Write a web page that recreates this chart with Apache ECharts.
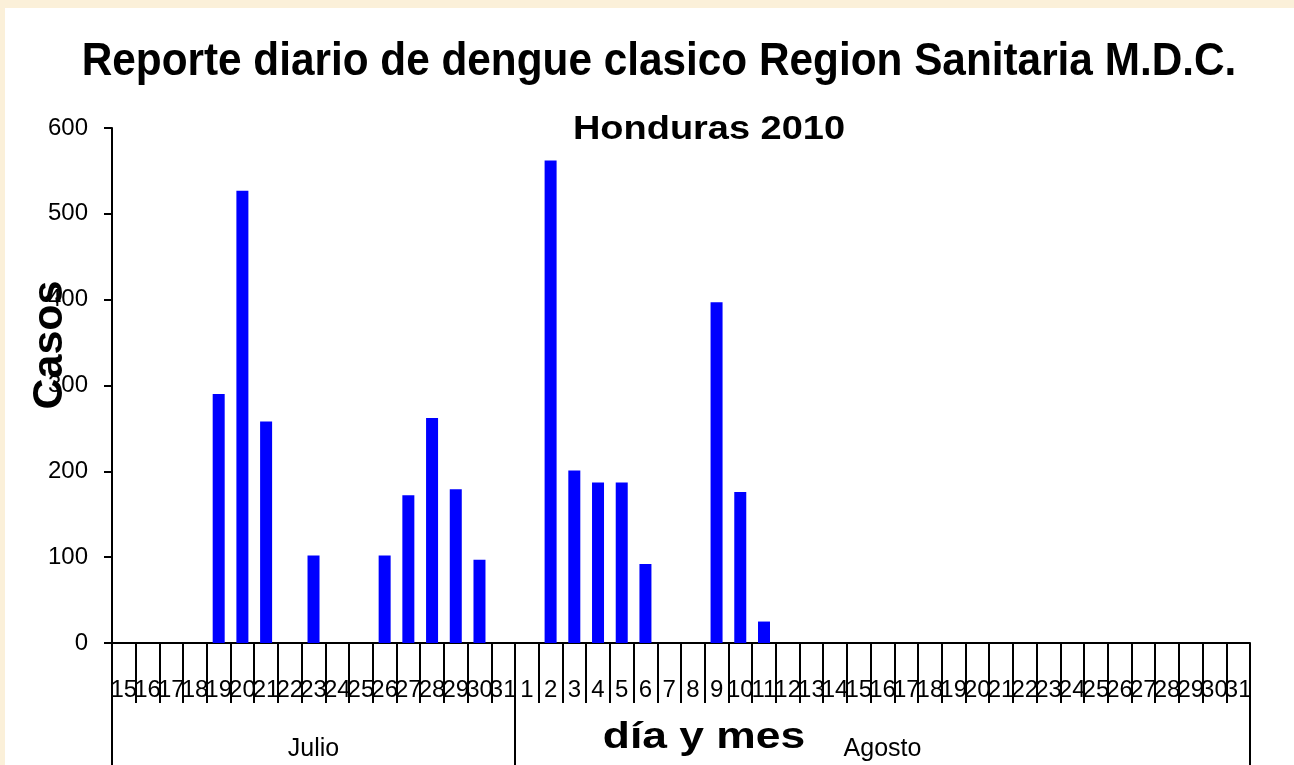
<!DOCTYPE html>
<html>
<head>
<meta charset="utf-8">
<script src="https://cdn.jsdelivr.net/npm/echarts@6/dist/echarts.min.js"></script>
<style>
  html, body { margin: 0; padding: 0; background: #FBF0D9; }
  #panel { position: absolute; left: 5px; top: 8px; width: 1289px; height: 757px; background: #ffffff; }
  #chart { position: absolute; left: 0; top: 0; width: 1294px; height: 765px; }
</style>
</head>
<body>
<div id="panel"></div>
<div id="chart"></div>
<script>
// ---- data ----
const titleText = 'Reporte diario de dengue clasico Region Sanitaria M.D.C.';
const subtitleText = 'Honduras 2010';
const yAxisTitle = 'Casos';
const xAxisTitle = 'día y mes';

const months = ['Julio', 'Agosto'];
const julioDays = ['15','16','17','18','19','20','21','22','23','24','25','26','27','28','29','30','31'];
const agostoDays = ['1','2','3','4','5','6','7','8','9','10','11','12','13','14','15','16','17','18','19','20','21','22','23','24','25','26','27','28','29','30','31'];

const julioCases = [0,0,0,0,290,527,258,0,102,0,0,102,172,262,179,97,0];
const agostoCases = [0,562,201,187,187,92,0,0,397,176,25,0,0,0,0,0,0,0,0,0,0,0,0,0,0,0,0,0,0,0,0];

const yTicks = [0, 100, 200, 300, 400, 500, 600];

// ---- build ----
const dayLabels = julioDays.concat(agostoDays);
const values = julioCases.concat(agostoCases);
const monthDays = [julioDays, agostoDays];
const monthAxisData = [];
const monthStart = [];
monthDays.forEach(function (days, m) {
  monthStart.push(monthAxisData.length);
  const mid = Math.floor(days.length / 2);
  days.forEach(function (d, i) { monthAxisData.push(i === mid ? months[m] : ''); });
});

const chart = echarts.init(document.getElementById('chart'), null, { renderer: 'canvas' });
const font = '"Liberation Sans", Arial, sans-serif';

chart.setOption({
  backgroundColor: 'transparent',
  animation: false,
  graphic: [
    { type: 'text', x: 659, y: 62, scaleX: 0.92,
      style: { text: titleText, font: 'bold 46px ' + font, fill: '#000', align: 'center', verticalAlign: 'middle' } },
    { type: 'text', x: 709, y: 130, scaleX: 1.15,
      style: { text: subtitleText, font: 'bold 33px ' + font, fill: '#000', align: 'center', verticalAlign: 'middle' } },
    { type: 'text', x: 50, y: 345, rotation: Math.PI / 2,
      style: { text: yAxisTitle, font: 'bold 43px ' + font, fill: '#000', align: 'center', verticalAlign: 'middle' } },
    { type: 'text', x: 704, y: 738, scaleX: 1.2,
      style: { text: xAxisTitle, font: 'bold 37px ' + font, fill: '#000', align: 'center', verticalAlign: 'middle' } }
  ],
  grid: { left: 112, right: 44, top: 128, bottom: 122, containLabel: false },
  xAxis: [{
    type: 'category',
    data: dayLabels,
    position: 'bottom',
    boundaryGap: true,
    axisLine: { lineStyle: { color: '#000', width: 2 } },
    axisTick: { show: true, interval: 0, length: 60, lineStyle: { color: '#000', width: 2 } },
    axisLabel: { interval: 0, margin: 47, verticalAlign: 'middle', fontFamily: font, fontSize: 24, color: '#000' },
    splitLine: { show: false }
  }, {
    type: 'category',
    data: monthAxisData,
    position: 'bottom',
    offset: 0,
    boundaryGap: true,
    axisLine: { show: false },
    axisTick: { show: true, length: 124, lineStyle: { color: '#000', width: 2 },
      interval: function (idx) { return monthStart.indexOf(idx) >= 0; } },
    axisLabel: { margin: 106, verticalAlign: 'middle', fontFamily: font, fontSize: 25, color: '#000',
      interval: function (idx, val) { return val !== ''; } },
    splitLine: { show: false }
  }],
  yAxis: {
    type: 'value',
    min: yTicks[0],
    max: yTicks[yTicks.length - 1],
    interval: yTicks[1] - yTicks[0],
    axisLine: { show: true, lineStyle: { color: '#000', width: 2 } },
    axisTick: { show: true, length: 8, lineStyle: { color: '#000', width: 2 } },
    axisLabel: { margin: 24, fontFamily: font, fontSize: 24, color: '#000' },
    splitLine: { show: false }
  },
  series: [{
    type: 'bar',
    xAxisIndex: 0,
    data: values,
    barWidth: 12,
    itemStyle: { color: '#0000FF' }
  }]
});
</script>
</body>
</html>
